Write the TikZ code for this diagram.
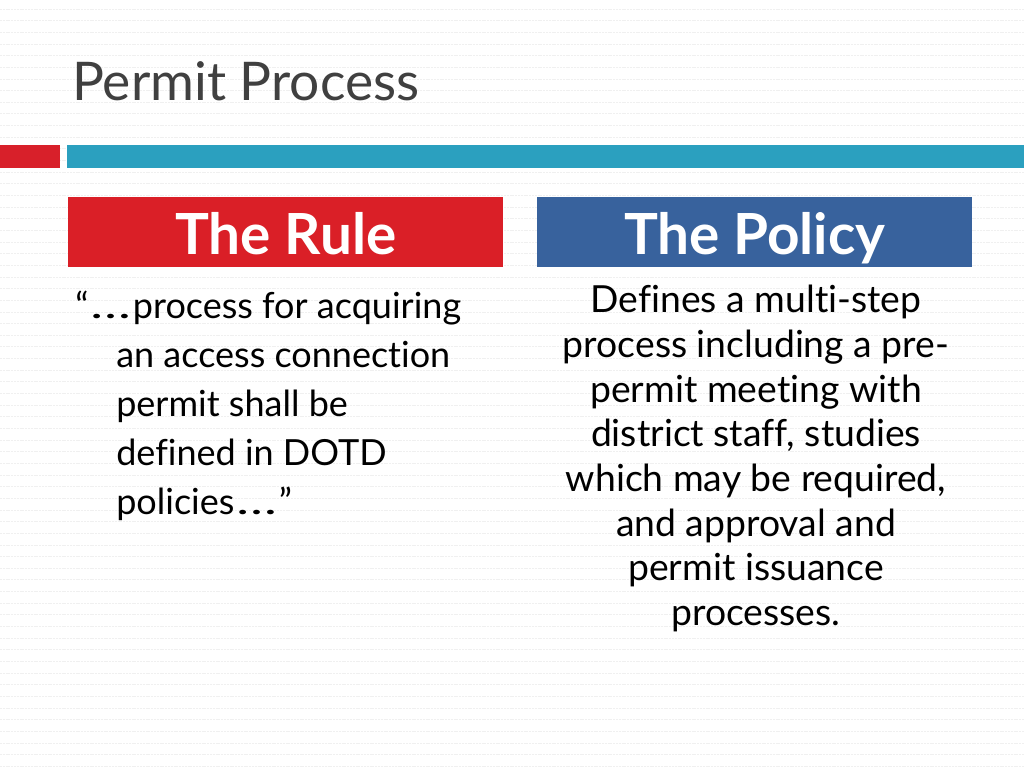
\documentclass[tikz,border=0pt]{standalone}
\usepackage{fontspec}
\setmainfont{Lato}[Ligatures=NoCommon]
\definecolor{accentred}{HTML}{D8202A}
\definecolor{accentblue}{HTML}{2BA0BF}
\definecolor{rulered}{HTML}{DA1F27}
\definecolor{policyblue}{HTML}{38629D}
\definecolor{titlegray}{HTML}{404040}
\definecolor{bgline}{HTML}{F0F0F0}
\newcommand{\wideellipsis}{\kern1.5pt\scalebox{1.5}[1]{…}\kern1.5pt}
\begin{document}
\begin{tikzpicture}[x=0.75pt,y=-0.75pt,
  headbox/.style={draw=none,inner sep=0pt,minimum width=435*0.75pt,minimum height=70*0.75pt},
  headtext/.style={anchor=base,inner sep=0pt,text=white,font=\fontsize{42.5}{46}\selectfont\bfseries},
  bodytext/.style={inner sep=0pt,text=black}]
\fill[white] (0,0) rectangle (1024,768);
\useasboundingbox (0,0) rectangle (1024,768);
\foreach \k in {0,...,65} \draw[bgline,line width=0.6pt,dash pattern=on 1.5pt off 0.6pt] (0,9+11.65*\k) -- (1024,9+11.65*\k);
% title
\node[anchor=base west,inner sep=0pt,text=titlegray,font=\fontsize{40}{44}\selectfont] (title) at (72,100) {Permit Process};
% accent bars
\fill[accentred] (0,145) rectangle (60,168);
\fill[accentblue] (67,145) rectangle (1024,168);
% header boxes
\node[headbox,fill=rulered,anchor=north west] (rule) at (68,197) {};
\node[headtext] (ruletxt) at (rule.center |- 0,254) {The Rule};
\node[headbox,fill=policyblue,anchor=north west] (policy) at (537,197) {};
\node[headtext] (policytxt) at (policy.center |- 0,254) {The Policy};
% left text
\node[bodytext,anchor=north west,align=left,font=\fontsize{27}{36.75}\selectfont] (left) at (116,291)
 {\hspace*{-30.75pt}“\wideellipsis process for acquiring\\an access connection\\permit shall be\\defined in DOTD\\policies\wideellipsis”};
% right text
\node[bodytext,anchor=north,align=center,font=\fontsize{28}{33.5}\selectfont] (right) at (756,285)
 {Defines a multi-step\\process including a pre-\\permit meeting with\\district staff, studies\\which may be required,\\and approval and\\permit issuance\\processes.};
\end{tikzpicture}
\end{document}
